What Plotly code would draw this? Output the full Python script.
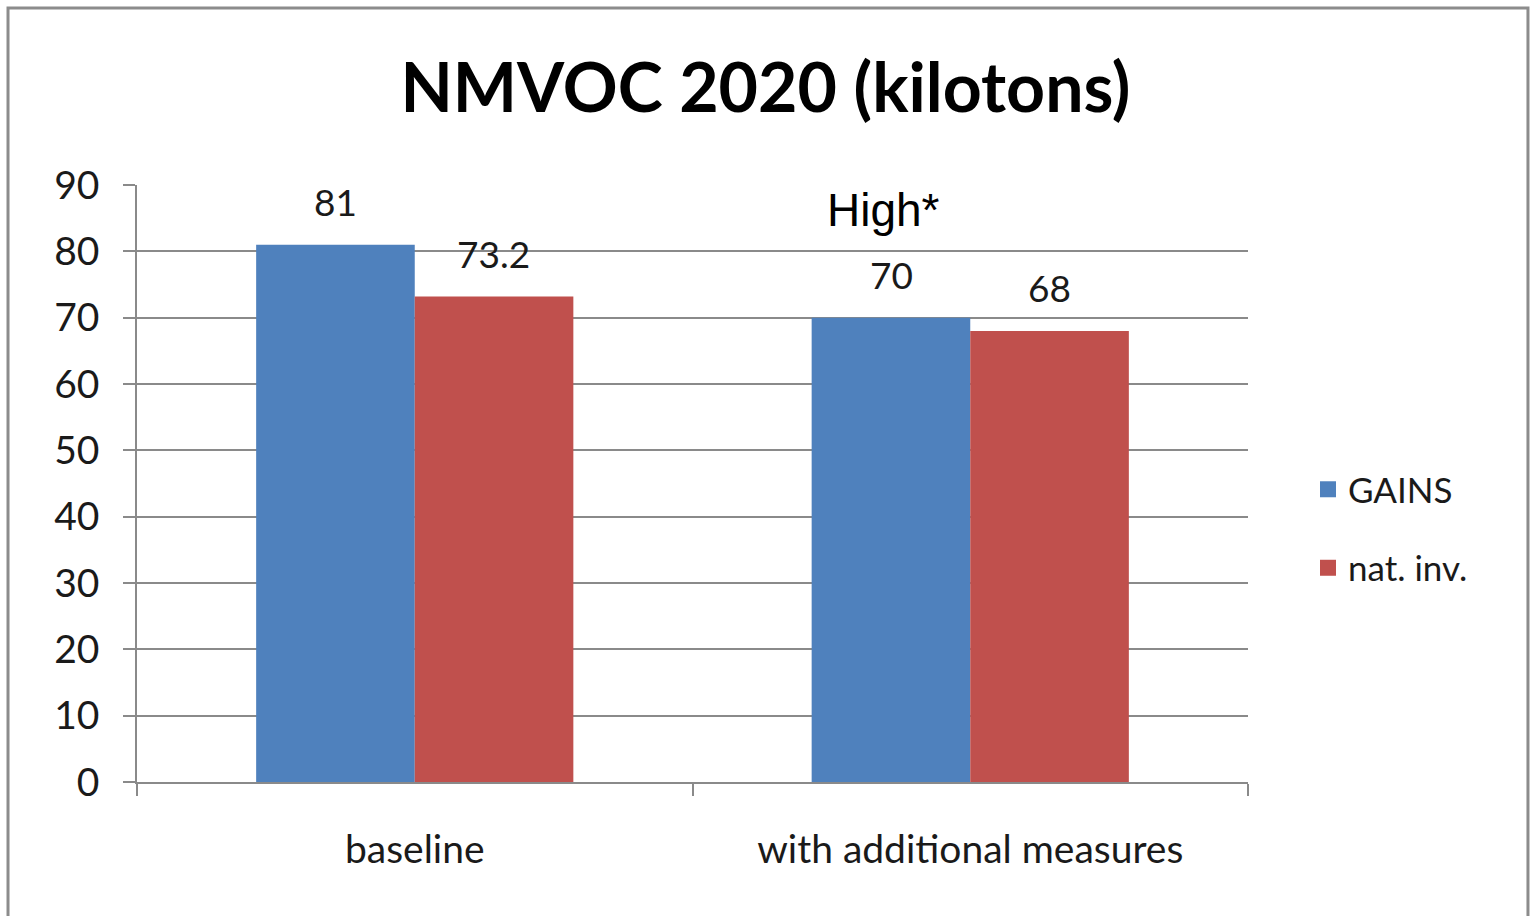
import plotly.graph_objects as go

categories = ["baseline", "with additional measures"]
gains = [81, 70]
nat_inv = [73.2, 68]
series_names = ["GAINS", "nat. inv."]
series_colors = ["#4F81BD", "#C0504D"]
y_ticks = [0, 10, 20, 30, 40, 50, 60, 70, 80, 90]

TEXT = "#1a1a1a"
GRID = "#8a8a8a"
FONT = "Lato, 'Open Sans', sans-serif"

fig = go.Figure()

for name, vals, col in zip(series_names, [gains, nat_inv], series_colors):
    fig.add_trace(
        go.Bar(
            x=categories,
            y=vals,
            name=name,
            marker=dict(color=col, line=dict(width=0)),
            showlegend=False,
            hoverinfo="skip",
        )
    )
    # legend entry with a bigger square than plotly's bar icon
    fig.add_trace(
        go.Scatter(
            x=[None],
            y=[None],
            mode="markers",
            name=name,
            legendgroup=name,
            marker=dict(symbol="square", size=16, color=col),
        )
    )

# value labels above each bar (bars are offset +-79px from category centre)
for shift, vals in zip([-79, 79], [gains, nat_inv]):
    for cat, v in zip(categories, vals):
        fig.add_annotation(
            x=cat,
            y=v,
            text=f"{v:g}",
            showarrow=False,
            xshift=shift,
            yshift=43,
            font=dict(size=37, color=TEXT, family=FONT),
        )

fig.add_annotation(
    xref="paper",
    yref="paper",
    x=0.6715,
    y=0.958,
    xanchor="center",
    yanchor="middle",
    text="High*",
    showarrow=False,
    font=dict(size=46, color="#000000", family="Liberation Sans, Arial, sans-serif"),
)

# outer frame of the chart image
fig.add_shape(
    type="rect",
    xref="paper",
    yref="paper",
    x0=-0.1161,
    x1=1.252,
    y0=-0.4,
    y1=1.2965,
    line=dict(color="#8c8c8c", width=3),
    fillcolor="rgba(0,0,0,0)",
    layer="below",
)

fig.update_layout(
    width=1531,
    height=916,
    margin=dict(l=137, r=283, t=185, b=134),
    paper_bgcolor="white",
    plot_bgcolor="white",
    bargap=0.429,
    bargroupgap=0,
    barmode="group",
    title=dict(
        text="<b>NMVOC 2020 (kilotons)</b>",
        x=0.5,
        xanchor="center",
        y=0.904,
        yanchor="middle",
        font=dict(size=68, color="#000000", family=FONT),
    ),
    legend=dict(
        x=1.054,
        xanchor="left",
        y=0.4246,
        yanchor="middle",
        font=dict(size=35, color=TEXT, family=FONT),
        tracegroupgap=30,
        bgcolor="rgba(0,0,0,0)",
    ),
    font=dict(family=FONT, color=TEXT),
)

fig.update_xaxes(
    type="category",
    tickson="boundaries",
    ticks="outside",
    ticklen=12,
    tickwidth=1.5,
    tickcolor=GRID,
    showline=True,
    linecolor=GRID,
    linewidth=1.5,
    showgrid=False,
    tickfont=dict(size=39, color=TEXT, family=FONT),
    ticklabelstandoff=32,
)

fig.update_yaxes(
    range=[0, 90],
    tickvals=y_ticks,
    ticks="outside",
    ticklen=12,
    tickwidth=1.5,
    tickcolor=GRID,
    showline=True,
    linecolor=GRID,
    linewidth=1.5,
    showgrid=True,
    gridcolor=GRID,
    gridwidth=1.5,
    zeroline=False,
    tickfont=dict(size=39, color=TEXT, family=FONT),
    ticklabelstandoff=16,
)

fig.write_html(
    "out.html",
    config={"displayModeBar": False},
    post_script="document.body.style.margin='0';",
)
